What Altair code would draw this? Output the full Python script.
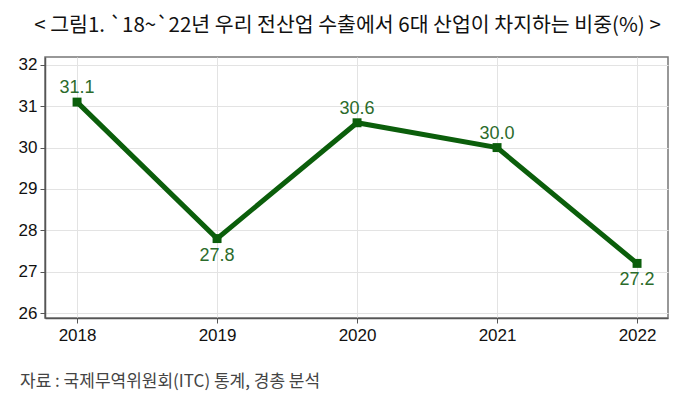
import altair as alt
import pandas as pd

years = [2018, 2019, 2020, 2021, 2022]
shares = [31.1, 27.8, 30.6, 30.0, 27.2]
labels = ["31.1", "27.8", "30.6", "30.0", "27.2"]
label_pos = ["above", "below", "above", "above", "below"]
y_ticks = [26, 27, 28, 29, 30, 31, 32]
title_text = "< 그림1. `18~`22년 우리 전산업 수출에서 6대 산업이 차지하는 비중(%) >"
source_text = "자료 : 국제무역위원회(ITC) 통계, 경총 분석"

df = pd.DataFrame({"year": years, "share": shares, "label": labels, "pos": label_pos})

W, H = 623, 261
GREEN = "#0b5e0b"
LABEL_GREEN = "#2b6b2b"

x = alt.X("year:Q", scale=alt.Scale(domain=[2017.771, 2022.221], nice=False, zero=False),
          axis=alt.Axis(values=years, format="d", title=None, grid=True, gridColor="#e3e3e3",
                        labelFontSize=17, labelFont="Liberation Sans", labelColor="#111",
                        labelPadding=4, tickSize=5, tickColor="#555", domainColor="#555",
                        domainWidth=1.5))
y = alt.Y("share:Q", scale=alt.Scale(domain=[25.88, 32.19], nice=False, zero=False),
          axis=alt.Axis(values=y_ticks, title=None, grid=True, gridColor="#e3e3e3",
                        labelFontSize=17, labelFont="Liberation Sans", labelColor="#111",
                        labelPadding=3, tickSize=5, tickColor="#555", domainColor="#555",
                        domainWidth=1.5))

base = alt.Chart(df)
line = base.mark_line(color=GREEN, strokeWidth=5).encode(x=x, y=y)
pts = base.mark_point(shape="square", filled=True, size=80, color=GREEN, opacity=1).encode(x=x, y=y)
above = base.transform_filter(alt.datum.pos == "above").mark_text(
    dy=-14, fontSize=18, font="Liberation Sans", color=LABEL_GREEN).encode(x=x, y=y, text="label:N")
below = base.transform_filter(alt.datum.pos == "below").mark_text(
    dy=17, fontSize=18, font="Liberation Sans", color=LABEL_GREEN).encode(x=x, y=y, text="label:N")

title = alt.Chart(pd.DataFrame({"t": [title_text]})).mark_text(
    fontSize=20.5, font="Noto Sans CJK KR", color="#111", align="center", baseline="middle"
).encode(x=alt.value(W / 2 - 9), y=alt.value(-31), text="t:N")

source = alt.Chart(pd.DataFrame({"t": [source_text]})).mark_text(
    fontSize=17, font="Noto Sans CJK KR", color="#444", align="left", baseline="middle"
).encode(x=alt.value(-25), y=alt.value(H + 64), text="t:N")

chart = alt.layer(line, pts, above, below, title, source).properties(
    width=W, height=H,
    autosize=alt.AutoSizeParams(type="none"),
    padding={"left": 37, "top": 49, "right": 24, "bottom": 87},
).configure_view(stroke="#777", strokeWidth=1.5)

chart.save("out.html", embed_options={"renderer": "svg", "actions": False})
